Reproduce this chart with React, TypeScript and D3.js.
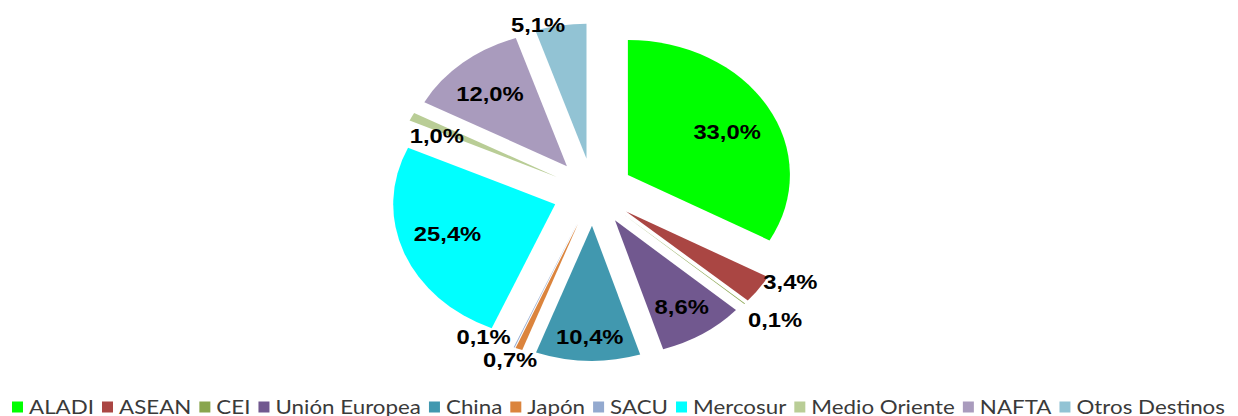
import React, { useMemo } from "react";
import * as d3 from "d3";

const categories = [
  "ALADI",
  "ASEAN",
  "CEI",
  "Unión Europea",
  "China",
  "Japón",
  "SACU",
  "Mercosur",
  "Medio Oriente",
  "NAFTA",
  "Otros Destinos",
];
const values = [33.0, 3.4, 0.1, 8.6, 10.4, 0.7, 0.1, 25.4, 1.0, 12.0, 5.1];
const valueLabels = ["33,0%", "3,4%", "0,1%", "8,6%", "10,4%", "0,7%", "0,1%", "25,4%", "1,0%", "12,0%", "5,1%"];
const colors = [
  "#00FF00",
  "#AA4643",
  "#89A54E",
  "#71588F",
  "#4198AF",
  "#DB843D",
  "#93A9CF",
  "#00FFFF",
  "#B9CD96",
  "#A99BBD",
  "#92C3D4",
];

// label placement (radius relative to slice radius, angle shift in degrees)
const labelRadius = [0.69, 1.14, 1.22, 0.76, 0.82, 1.09, 1.02, 0.7, 0.8, 0.715, 1.04];
const labelAngleShift = [3, -8, -1.6, 0, -0.5, 1.2, 11.6, 2.8, -4.2, -1.6, -7.5];

const W = 1238;
const H = 416;
const CX = 593;
const CY = 192;
const R = 135;
const SX = 1.2; // horizontal stretch of the plot
const EXPLODE = 0.25;

export default function App() {
  const pie = d3
    .pie<number>()
    .sort(null)
    .value((d) => d)
    .startAngle(0)
    .endAngle(2 * Math.PI);
  const arcs = pie(values);
  const arcGen = d3.arc<d3.PieArcDatum<number>>().innerRadius(0).outerRadius(R);

  const legend = useMemo(() => {
    const fontSize = 19.5;
    const canvas = document.createElement("canvas");
    const ctx = canvas.getContext("2d")!;
    ctx.font = `${fontSize}px Lato, "Open Sans", sans-serif`;
    const widths = categories.map((c) => ctx.measureText(c).width);
    const left = 12;
    const right = 1225;
    const sq = 11;
    const gapST = 6;
    const gapItem = 8;
    const fixed = categories.length * (sq + gapST) + (categories.length - 1) * gapItem;
    const rawTotal = d3.sum(widths);
    const sx = (right - left - fixed) / rawTotal;
    let x = left;
    const items = categories.map((c, i) => {
      const it = { name: c, color: colors[i], x, tx: x + sq + gapST, sx };
      x += sq + gapST + widths[i] * sx + gapItem;
      return it;
    });
    return { items, fontSize, sq };
  }, []);

  return (
    <svg
      width={W}
      height={H}
      style={{ position: "absolute", left: 0, top: 0, background: "#fff" }}
      xmlns="http://www.w3.org/2000/svg"
    >
      <g transform={`translate(${CX},${CY}) scale(${SX},1)`}>
        {arcs.map((a, i) => {
          const m = (a.startAngle + a.endAngle) / 2;
          const dx = EXPLODE * R * Math.sin(m);
          const dy = -EXPLODE * R * Math.cos(m);
          return (
            <path
              key={categories[i]}
              d={arcGen(a) || ""}
              transform={`translate(${dx},${dy})`}
              fill={colors[i]}
            />
          );
        })}
      </g>
      <g>
        {arcs.map((a, i) => {
          const m = (a.startAngle + a.endAngle) / 2;
          const vx = CX + SX * EXPLODE * R * Math.sin(m);
          const vy = CY - EXPLODE * R * Math.cos(m);
          const ang = m + (labelAngleShift[i] * Math.PI) / 180;
          const r = labelRadius[i] * R;
          const x = vx + SX * r * Math.sin(ang);
          const y = vy - r * Math.cos(ang);
          return (
            <text
              key={"l" + i}
              transform={`translate(${x},${y}) scale(1.16,1)`}
              textAnchor="middle"
              dy="0.36em"
              fontFamily="'Liberation Sans', Arial, sans-serif"
              fontWeight="bold"
              fontSize={20.5}
              fill="#000"
            >
              {valueLabels[i]}
            </text>
          );
        })}
      </g>
      <g>
        {legend.items.map((it) => (
          <g key={it.name}>
            <rect x={it.x} y={401.5} width={legend.sq} height={legend.sq} fill={it.color} />
            <text
              transform={`translate(${it.tx},${413.7}) scale(${it.sx},1)`}
              fontFamily="Lato, 'Open Sans', sans-serif"
              fontSize={legend.fontSize}
              fill="#3a3a3a"
            >
              {it.name}
            </text>
          </g>
        ))}
      </g>
    </svg>
  );
}
